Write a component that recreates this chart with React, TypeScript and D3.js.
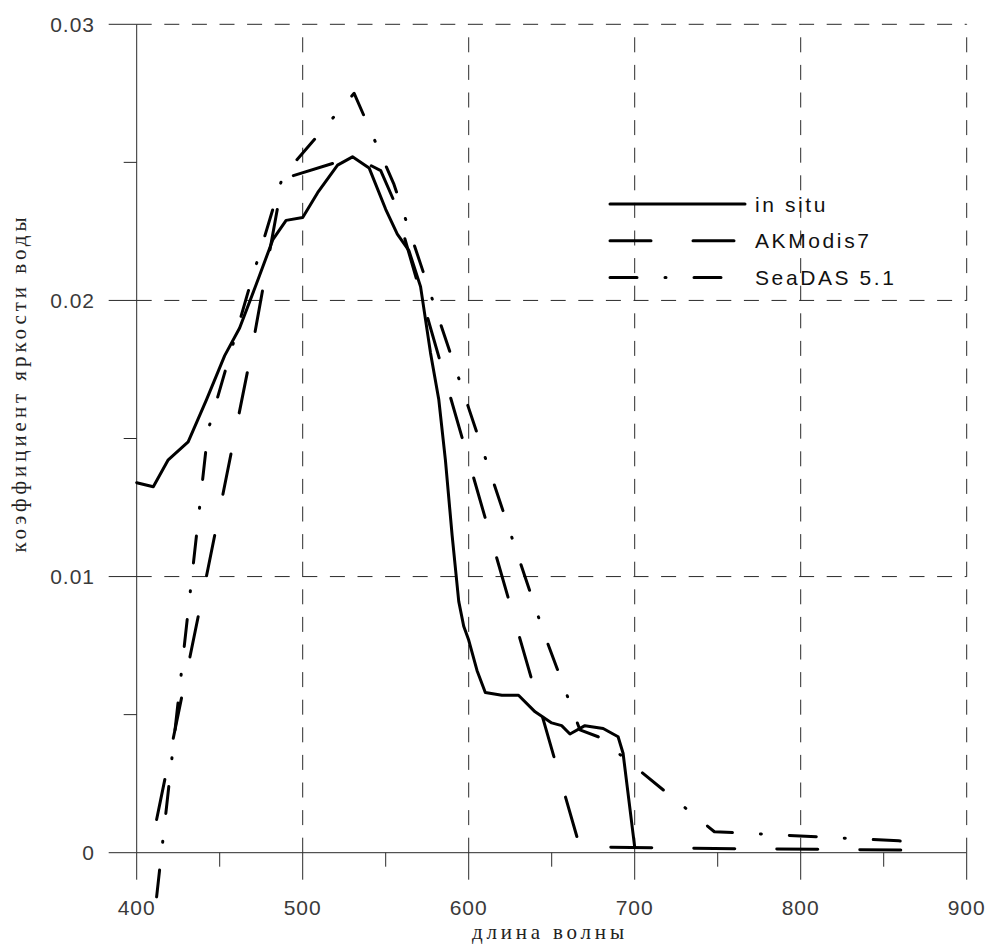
import React from 'react';
import * as d3 from 'd3';

// in situ spectrum (nm / value)
const insituWl = [400, 410, 419, 431, 442, 453, 462, 474, 482, 490, 500, 509, 521, 530, 540, 550, 557, 564, 571, 577, 582, 586, 590, 594, 597, 600, 605, 610, 620, 630, 640, 650, 656, 661, 670, 681, 690, 693, 700];
const insituVal = [0.0134, 0.01325, 0.01423, 0.01488, 0.0164, 0.018, 0.019, 0.0209, 0.0222, 0.0229, 0.023, 0.0239, 0.0249, 0.0252, 0.0248, 0.0233, 0.0224, 0.0218, 0.0205, 0.0181, 0.0164, 0.0142, 0.0115, 0.0091, 0.0082, 0.0077, 0.0066, 0.0058, 0.0057, 0.0057, 0.0051, 0.0047, 0.0046, 0.0043, 0.0046, 0.0045, 0.0042, 0.0036, 0.0002];

// MODIS bands
const bands = [412, 443, 469, 488, 531, 547, 555, 645, 667, 678, 748, 859, 869];
const akmodisVal = [0.0012, 0.0103, 0.0181, 0.0244, 0.0252, 0.0247, 0.0236, 0.0048, 0.0002, 0.0002, 0.00015, 0.0001, 0.0001];
const seadasVal = [-0.0016, 0.0153, 0.0207, 0.0245, 0.0275, 0.0253, 0.0242, 0.008, 0.00445, 0.0042, 0.00076, 0.00043, 0.00036];

const xTicks = [400, 500, 600, 700, 800, 900];
const xMinor = [450, 550, 650, 750, 850];
const yTicks = [0, 0.01, 0.02, 0.03];
const yMinor = [0.005, 0.015, 0.025];
const yTickLabels = ['0', '0.01', '0.02', '0.03'];

const series = [
  { name: 'in situ', wl: insituWl, val: insituVal, dash: 'none' },
  { name: 'AKModis7', wl: bands, val: akmodisVal, dash: '41,42' },
  { name: 'SeaDAS 5.1', wl: bands, val: seadasVal, dash: '27,28,1,28' },
];

const App = () => {
  const x = d3.scaleLinear().domain([400, 900]).range([136.7, 966.7]);
  const y = d3.scaleLinear().domain([0, 0.03]).range([852.7, 24.3]);
  const line = d3.line<[number, number]>().x(d => x(d[0])).y(d => y(d[1]));
  const axisColor = '#2a2a2a';
  const tickFont = { fontFamily: '"Liberation Sans", Arial, sans-serif', fontSize: 21, fill: '#3a3a3a', letterSpacing: 1 };
  const titleFont = { fontFamily: '"Liberation Serif", "DejaVu Serif", serif', fontSize: 21, fill: '#222' };

  return (
    <svg width={987} height={946} style={{ position: 'absolute', left: 0, top: 0, background: '#fff' }}>
      {/* grid */}
      {xTicks.filter(t => t > 400).map(t => (
        <line key={'gx' + t} x1={x(t)} x2={x(t)} y1={y(0)} y2={y(0.03)} stroke={axisColor} strokeWidth={1} strokeDasharray="15,12.6" />
      ))}
      {yTicks.filter(t => t > 0).map(t => (
        <line key={'gy' + t} x1={x(400)} x2={x(900)} y1={y(t)} y2={y(t)} stroke={axisColor} strokeWidth={1} strokeDasharray="15,12.6" />
      ))}

      {/* axes */}
      <line x1={x(400)} x2={x(400)} y1={y(0.03)} y2={y(0)} stroke={axisColor} />
      <line x1={x(400)} x2={x(900)} y1={y(0)} y2={y(0)} stroke={axisColor} />
      {yTicks.map(t => (
        <line key={'yt' + t} x1={x(400) - 28} x2={x(400)} y1={y(t)} y2={y(t)} stroke={axisColor} />
      ))}
      {yMinor.map(t => (
        <line key={'ym' + t} x1={x(400) - 13} x2={x(400)} y1={y(t)} y2={y(t)} stroke={axisColor} />
      ))}
      {xTicks.map(t => (
        <line key={'xt' + t} x1={x(t)} x2={x(t)} y1={y(0)} y2={y(0) + 27} stroke={axisColor} />
      ))}
      {xMinor.map(t => (
        <line key={'xm' + t} x1={x(t)} x2={x(t)} y1={y(0)} y2={y(0) + 14} stroke={axisColor} />
      ))}

      {/* tick labels */}
      {xTicks.map(t => (
        <text key={'xl' + t} x={x(t)} y={915} textAnchor="middle" {...tickFont}>{t}</text>
      ))}
      {yTicks.map((t, i) => (
        <text key={'yl' + t} x={95} y={y(t) + 7.5} textAnchor="end" {...tickFont}>{yTickLabels[i]}</text>
      ))}

      {/* axis titles */}
      <text x={548} y={939} textAnchor="middle" {...titleFont} textLength={152} lengthAdjust="spacing">длина волны</text>
      <text transform="translate(26,385) rotate(-90)" textAnchor="middle" {...titleFont} textLength={335} lengthAdjust="spacing">коэффициент яркости воды</text>

      {/* data */}
      {series.map(s => (
        <path key={s.name} d={line(s.wl.map((w, i) => [w, s.val[i]]) as [number, number][]) || ''} fill="none" stroke="#000" strokeWidth={3} strokeLinecap="round" strokeLinejoin="round" strokeDasharray={s.dash} />
      ))}

      {/* legend */}
      {series.map((s, i) => {
        const ly = 204 + i * 36.8;
        return (
          <g key={'lg' + s.name}>
            <line x1={610} x2={745} y1={ly} y2={ly} stroke="#000" strokeWidth={3} strokeLinecap="round" strokeDasharray={s.dash} />
            <text x={755} y={ly + 7.5} fontFamily='"Liberation Sans", Arial, sans-serif' fontSize={21} letterSpacing={2.6} fill="#111">{s.name}</text>
          </g>
        );
      })}
    </svg>
  );
};

export default App;
